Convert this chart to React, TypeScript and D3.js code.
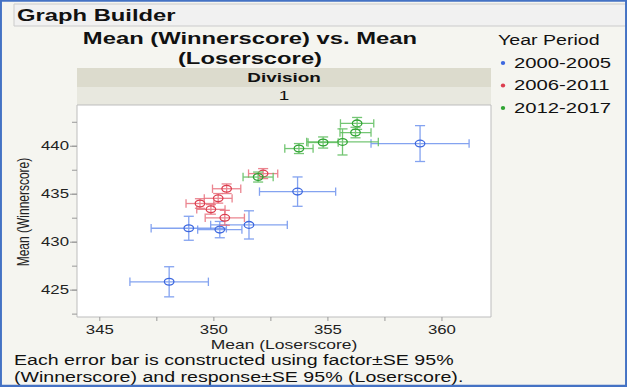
import React from "react";
import { scaleLinear, range } from "d3";

// Year periods (legend order) and their colours
const periods = ["2000-2005", "2006-2011", "2012-2017"];
const markColors = ["#3d68df", "#dc3d4e", "#2fa432"];
const barColors = ["#6f93ee", "#e8707d", "#5cbd5c"];

// Mean (Loserscore) per point, grouped by period
const loserMean = [
  [359.04, 353.67, 351.54, 348.9, 350.26, 348.04],
  [352.16, 350.56, 350.19, 349.39, 349.87, 350.48],
  [356.28, 356.21, 355.64, 354.79, 353.73, 351.94],
];
// Mean (Winnerscore) per point
const winnerMean = [
  [440.28, 435.27, 431.8, 431.45, 431.31, 425.87],
  [437.15, 435.57, 434.57, 434.03, 433.42, 432.54],
  [442.38, 441.43, 440.45, 440.39, 439.76, 436.79],
];
// half widths of the 95% bars
const loserErr = [
  [2.15, 1.67, 1.68, 1.65, 0.97, 1.72],
  [0.64, 0.62, 0.61, 0.61, 0.62, 0.86],
  [0.73, 0.68, 1.57, 0.66, 0.62, 0.66],
];
const winnerErr = [
  [1.87, 1.53, 1.47, 1.25, 0.85, 1.57],
  [0.52, 0.5, 0.5, 0.5, 0.5, 0.78],
  [0.62, 0.55, 1.36, 0.58, 0.52, 0.52],
];

const xTicks = [345, 350, 355, 360];
const yTicks = [425, 430, 435, 440];

// the reference screenshot is stretched sideways, so draw in a narrower
// viewBox and let the svg stretch it back out
const SX = 1.4;
const W = 627;
const H = 387;
const VW = W / SX;
const px = (v: number) => v / SX; // screen x -> viewBox x

const FONT = "'Liberation Sans', Arial, Helvetica, sans-serif";

const plot = { left: px(77), right: px(491), top: 105, bottom: 317 };

const App = () => {
  const x = scaleLinear().domain([344.0, 362.15]).range([plot.left, plot.right]);
  const y = scaleLinear().domain([422.2, 444.3]).range([plot.bottom, plot.top]);

  const xMinor = range(345, 362, 2.5);
  const yMinor = range(422.5, 444, 2.5);
  const cap = 4.2;
  const capY = 3.6;
  const ns = "non-scaling-stroke" as const;
  const titleX = px(250);

  return (
    <svg
      width={W}
      height={H}
      viewBox={`0 0 ${VW} ${H}`}
      preserveAspectRatio="none"
      style={{ position: "absolute", left: 0, top: 0, fontFamily: FONT }}
    >
      <rect x={0} y={0} width={VW} height={H} fill="#f5f5f0" />
      {/* Graph Builder header */}
      <rect x={px(14)} y={4} width={px(612)} height={22} fill="#f1f1f1" stroke="#cbcbcb" vectorEffect={ns} />
      <text x={px(17)} y={21} fontSize={17} fontWeight="bold" fill="#111">
        Graph Builder
      </text>

      {/* title */}
      <text x={titleX} y={44} fontSize={17} fontWeight="bold" textAnchor="middle" fill="#111">
        Mean (Winnerscore) vs. Mean
      </text>
      <text x={titleX} y={64} fontSize={17} fontWeight="bold" textAnchor="middle" fill="#111">
        (Loserscore)
      </text>

      {/* group bands */}
      <rect x={plot.left} y={68} width={plot.right - plot.left} height={19} fill="#dcdbcd" />
      <rect x={plot.left} y={87} width={plot.right - plot.left} height={18} fill="#e8e8df" />
      <text x={(plot.left + plot.right) / 2} y={82} fontSize={13.5} fontWeight="bold" textAnchor="middle" fill="#111">
        Division
      </text>
      <text x={(plot.left + plot.right) / 2} y={100} fontSize={13.5} textAnchor="middle" fill="#111">
        1
      </text>

      {/* plot frame */}
      <rect
        x={plot.left}
        y={plot.top}
        width={plot.right - plot.left}
        height={plot.bottom - plot.top}
        fill="#ffffff"
        stroke="#bdbdbd"
        vectorEffect={ns}
      />

      {/* y axis */}
      {yMinor.map((t) => (
        <line key={"ym" + t} x1={plot.left} x2={plot.left - px(5)} y1={y(t)} y2={y(t)} stroke="#999" vectorEffect={ns} />
      ))}
      {yTicks.map((t) => (
        <g key={"y" + t}>
          <line x1={plot.left} x2={plot.left - px(7)} y1={y(t)} y2={y(t)} stroke="#999" vectorEffect={ns} />
          <text x={px(69)} y={y(t) + 4.2} fontSize={12} textAnchor="end" fill="#222">
            {t}
          </text>
        </g>
      ))}
      <text
        transform={`translate(${px(29)},${212}) rotate(-90)`}
        fontSize={12}
        textAnchor="middle"
        fill="#222"
      >
        Mean (Winnerscore)
      </text>

      {/* x axis */}
      {xMinor.map((t) => (
        <line key={"xm" + t} x1={x(t)} x2={x(t)} y1={plot.bottom} y2={plot.bottom + 4} stroke="#999" vectorEffect={ns} />
      ))}
      {xTicks.map((t) => (
        <text key={"x" + t} x={x(t)} y={334} fontSize={12} textAnchor="middle" fill="#222">
          {t}
        </text>
      ))}
      <text x={px(284)} y={349} fontSize={12.5} textAnchor="middle" fill="#222">
        Mean (Loserscore)
      </text>

      {/* error bars and markers */}
      {periods.map((p, i) => (
        <g key={p}>
          {loserMean[i].map((lx, j) => {
            const cx = x(lx);
            const cy = y(winnerMean[i][j]);
            const x0 = x(lx - loserErr[i][j]);
            const x1 = x(lx + loserErr[i][j]);
            const y0 = y(winnerMean[i][j] - winnerErr[i][j]);
            const y1 = y(winnerMean[i][j] + winnerErr[i][j]);
            return (
              <g key={j}>
                <g stroke={barColors[i]} strokeWidth={1.3} opacity={0.85} fill="none">
                  <line x1={x0} x2={x1} y1={cy} y2={cy} vectorEffect={ns} />
                  <line x1={x0} x2={x0} y1={cy - cap} y2={cy + cap} vectorEffect={ns} />
                  <line x1={x1} x2={x1} y1={cy - cap} y2={cy + cap} vectorEffect={ns} />
                  <line x1={cx} x2={cx} y1={y0} y2={y1} vectorEffect={ns} />
                  <line x1={cx - capY} x2={cx + capY} y1={y0} y2={y0} vectorEffect={ns} />
                  <line x1={cx - capY} x2={cx + capY} y1={y1} y2={y1} vectorEffect={ns} />
                </g>
                <circle cx={cx} cy={cy} r={3.4} fill="none" stroke={markColors[i]} strokeWidth={1.3} vectorEffect={ns} />
              </g>
            );
          })}
        </g>
      ))}

      {/* legend */}
      <text x={px(498)} y={45} fontSize={14} fill="#111">
        Year Period
      </text>
      {periods.map((p, i) => (
        <g key={"lg" + p}>
          <ellipse cx={px(503)} cy={63 + i * 22.5} rx={px(2.2)} ry={2} fill={markColors[i]} />
          <text x={px(514)} y={68 + i * 22.5} fontSize={14.5} fill="#111">
            {p}
          </text>
        </g>
      ))}

      {/* note */}
      <text x={px(14)} y={365} fontSize={14} fill="#111">
        Each error bar is constructed using factor±SE 95%
      </text>
      <text x={px(14)} y={382} fontSize={14} fill="#111">
        (Winnerscore) and response±SE 95% (Loserscore).
      </text>

      {/* outer frame */}
      <rect x={0.5} y={0.5} width={VW - 1} height={H - 1.5} fill="none" stroke="#4472c4" strokeWidth={2.5} vectorEffect={ns} />
    </svg>
  );
};

export default App;
